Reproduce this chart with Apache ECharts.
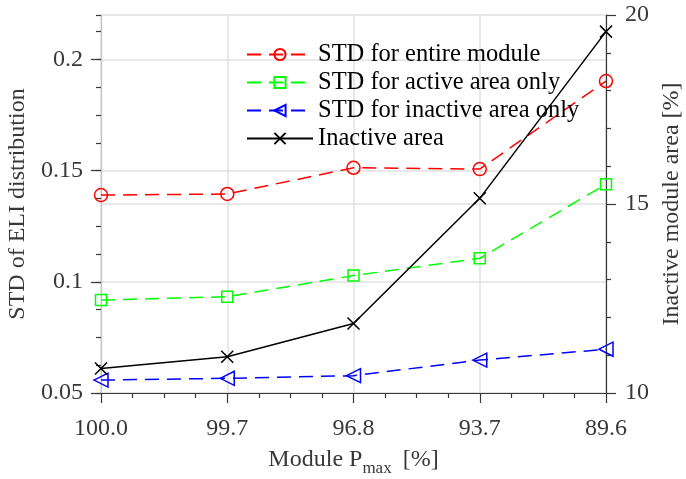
<!DOCTYPE html>
<html>
<head>
<meta charset="utf-8">
<script src="https://cdn.jsdelivr.net/npm/echarts@6/dist/echarts.min.js"></script>
<style>
  html, body { margin: 0; padding: 0; background: #fff; }
  #chart { width: 686px; height: 479px; }
</style>
</head>
<body>
<div id="chart"></div>
<script>
// Module power levels shown along the bottom axis
var categories = ['100.0', '99.7', '96.8', '93.7', '89.6'];

// Standard deviation of the ELI distribution (left axis)
var stdEntireModule = [0.139, 0.1395, 0.1513, 0.1507, 0.1903];
var stdActiveArea = [0.0918, 0.0933, 0.1028, 0.1106, 0.1439];
var stdInactiveArea = [0.0558, 0.0566, 0.0578, 0.0648, 0.0697];

// Inactive module area in percent (right axis)
var inactiveArea = [10.65, 10.96, 11.84, 15.15, 19.56];

// Tick values for the two value axes
var leftTicks = [0.05, 0.1, 0.15, 0.2];
var rightTicks = [10, 15, 20];

function pairs(values) {
  return values.map(function (v, i) { return [i, v]; });
}

var FONT = 'Liberation Serif';
var GREY = '#383838';
var GRID = '#e0e0e0';
var crossPath = 'path://M0,0L10,10M10,0L0,10';

var chart = echarts.init(document.getElementById('chart'), null, { renderer: 'canvas' });

function lineSeries(name, values, color, dashed, symbol, size, rotate, yIndex) {
  return {
    name: name,
    type: 'line',
    yAxisIndex: yIndex,
    data: pairs(values),
    symbol: symbol,
    symbolSize: size,
    symbolRotate: rotate,
    showAllSymbol: true,
    animation: false,
    lineStyle: { color: color, width: 1.5, type: dashed ? [14, 8] : 'solid' },
    itemStyle: { color: 'none', borderColor: color, borderWidth: 1.5 },
    emphasis: { disabled: true }
  };
}

chart.setOption({
  animation: false,
  backgroundColor: '#ffffff',
  grid: { left: 101, right: 80, top: 15, bottom: 86, containLabel: false, outerBoundsMode: 'none' },
  legend: {
    left: 241,
    top: 37,
    orient: 'vertical',
    itemWidth: 66,
    itemHeight: 14,
    itemGap: 3,
    textStyle: { fontFamily: FONT, fontSize: 24.5, color: '#000', lineHeight: 24.5, padding: [0, 0, 0, 0] },
    selectedMode: false,
    data: ['STD for entire module', 'STD for active area only', 'STD for inactive area only', 'Inactive area']
  },
  xAxis: {
    type: 'value',
    min: 0,
    max: categories.length - 1,
    interval: 1,
    name: 'Module P{sub|max} [%]',
    nameLocation: 'middle',
    nameGap: 49,
    nameTextStyle: {
      fontFamily: FONT, fontSize: 24, color: GREY,
      rich: { sub: { fontFamily: FONT, fontSize: 17, color: GREY, verticalAlign: 'bottom', padding: [18, 5, 0, 0] } }
    },
    axisLine: { show: true, lineStyle: { color: GREY, width: 1.2 } },
    axisTick: { show: true, length: 10, lineStyle: { color: GREY, width: 1.2 } },
    minorTick: { show: true, splitNumber: 4, length: 5, lineStyle: { color: GREY, width: 1.2 } },
    axisLabel: {
      margin: 24,
      fontFamily: FONT, fontSize: 24, color: GREY,
      formatter: function (v) { return categories[Math.round(v)]; }
    },
    splitLine: { show: true, lineStyle: { color: GRID, width: 1.5 } }
  },
  yAxis: [
    {
      type: 'value',
      position: 'left',
      min: 0.05,
      max: 0.22,
      interval: 0.05,
      name: 'STD of ELI distribution',
      nameLocation: 'middle',
      nameRotate: 90,
      nameGap: 60,
      nameTextStyle: { fontFamily: FONT, fontSize: 24, color: GREY },
      axisLine: { show: true, lineStyle: { color: '#c4c4c4', width: 1.2 } },
      axisTick: { show: true, length: 10, customValues: leftTicks, lineStyle: { color: GREY, width: 1.2 } },
      axisLabel: {
        margin: 18, fontFamily: FONT, fontSize: 24, color: GREY,
        customValues: leftTicks
      },
      splitLine: { show: true, lineStyle: { color: GRID, width: 1.5 } }
    },
    {
      type: 'value',
      position: 'right',
      min: 10,
      max: 20,
      interval: 5,
      name: 'Inactive module area [%]',
      nameLocation: 'middle',
      nameRotate: 90,
      nameGap: 47,
      nameTextStyle: { fontFamily: FONT, fontSize: 24, color: GREY },
      axisLine: { show: true, lineStyle: { color: GREY, width: 1.2 } },
      axisTick: { show: true, length: 10, customValues: rightTicks, lineStyle: { color: GREY, width: 1.2 } },
      minorTick: { show: true, splitNumber: 5, length: 5, lineStyle: { color: GREY, width: 1.2 } },
      axisLabel: { margin: 19, fontFamily: FONT, fontSize: 24, color: GREY },
      splitLine: { show: true, lineStyle: { color: GRID, width: 1.5 } }
    },
    {
      // quarter steps between the labelled ticks on the left side
      type: 'value',
      position: 'left',
      min: 0.05,
      max: 0.22,
      interval: 0.0125,
      axisLine: { show: false },
      axisTick: { show: true, length: 5, lineStyle: { color: GREY, width: 1.2 } },
      axisLabel: { show: false },
      splitLine: { show: false }
    }
  ],
  series: [
    lineSeries('STD for entire module', stdEntireModule, '#ff0000', true, 'circle', 13, 0, 0),
    lineSeries('STD for active area only', stdActiveArea, '#00ff00', true, 'rect', 11, 0, 0),
    lineSeries('STD for inactive area only', stdInactiveArea, '#0000ff', true, 'triangle', 14, 90, 0),
    lineSeries('Inactive area', inactiveArea, '#000000', false, crossPath, 12, 0, 1)
  ]
});
</script>
</body>
</html>
